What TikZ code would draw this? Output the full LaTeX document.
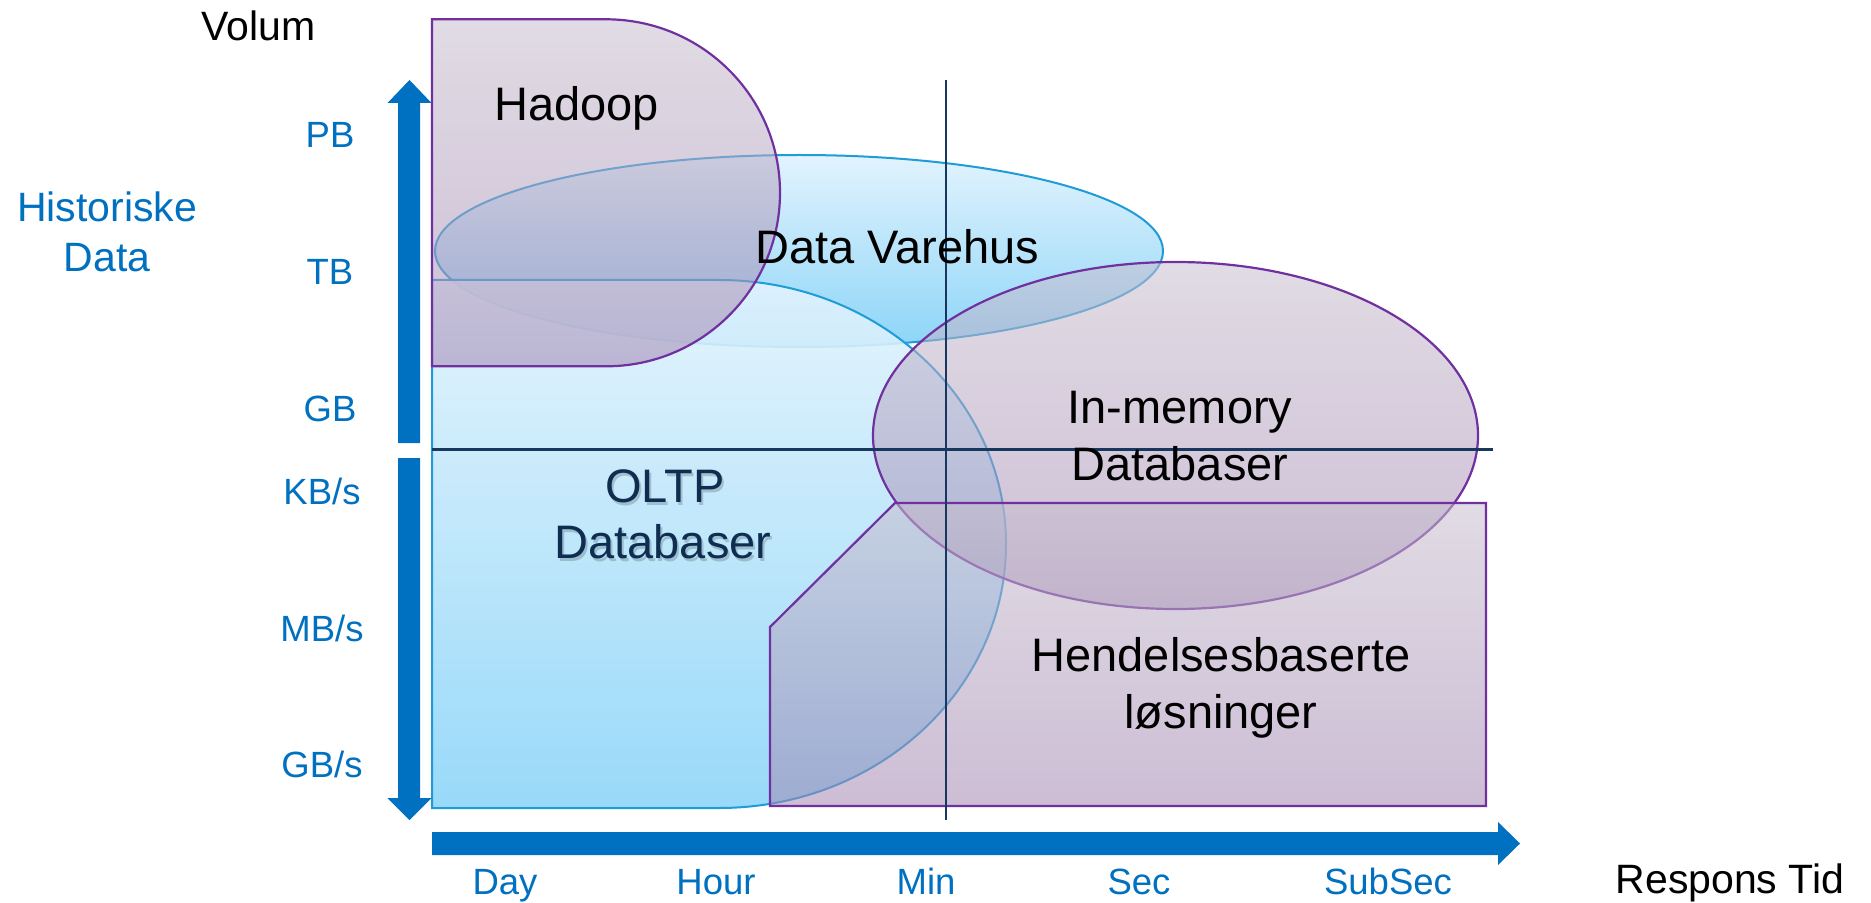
\documentclass[tikz,border=0pt]{standalone}
\usepackage{fontspec}
\setmainfont{Liberation Sans}
\definecolor{axblue}{HTML}{0070C0}
\definecolor{gridnavy}{HTML}{17375E}
\definecolor{oltptext}{HTML}{0F2D50}
\definecolor{purp}{HTML}{7030A0}
\definecolor{bline}{HTML}{1E9CD7}
\definecolor{btop}{HTML}{E2F3FD}
\definecolor{bbot}{HTML}{8DD5F8}
\definecolor{ltop}{HTML}{C7BECE}
\definecolor{lbot}{HTML}{A387B2}
\begin{document}
\begin{tikzpicture}[x=0.5pt,y=-0.5pt,
  bigtxt/.style={font=\fontsize{23.5}{28}\selectfont, inner sep=0pt, anchor=base},
  midtxt/.style={font=\fontsize{20.5}{24}\selectfont, inner sep=0pt, anchor=base},
  axtxt/.style={font=\fontsize{18.25}{22}\selectfont, inner sep=0pt, anchor=base, text=axblue},
  bluebox/.style={draw=bline, line width=1pt, top color=btop, bottom color=bbot},
  lavbox/.style={draw=purp, line width=1.1pt, top color=ltop, bottom color=lbot, fill opacity=0.55},
  gridline/.style={draw=gridnavy, line width=1.2pt},
  axarrow/.style={fill=axblue},
]
\useasboundingbox (0,0) rectangle (1871,903);

% Data Varehus ellipse (bottom layer)
\path[bluebox] (799,251) ellipse [x radius=182pt, y radius=48pt];
% OLTP delay shape
\path[bluebox, fill opacity=0.9] (432,280) -- (719,280)
  arc[start angle=90, end angle=-90, x radius=143.5pt, y radius=132pt]
  -- (432,808) -- cycle;
% Hadoop delay shape
\path[lavbox] (432,19.3) -- (606,19.3)
  arc[start angle=90, end angle=-90, x radius=87pt, y radius=86.75pt]
  -- (432,366.3) -- cycle;
% In-memory ellipse
\path[lavbox] (1175.5,435.5) ellipse [x radius=151.25pt, y radius=86.75pt];
% Hendelsesbaserte snipped rectangle
\path[lavbox] (770,627) -- (895,503) -- (1486,503) -- (1486,806) -- (770,806) -- cycle;

% grid lines
\coordinate (hL) at (432,449.5);
\coordinate (hR) at (1493,449.5);
\coordinate (vT) at (946,80);
\coordinate (vB) at (946,820);
\draw[gridline] (hL) -- (hR);
\draw[gridline] (vT) -- (vB);

% axis arrows
\fill[axarrow] (398,443) -- (398,103) -- (387.5,103) -- (409.5,80) -- (431.5,103) -- (420,103) -- (420,443) -- cycle;
\fill[axarrow] (398,458) -- (420,458) -- (420,798) -- (431.5,798) -- (409.5,820) -- (387.5,798) -- (398,798) -- cycle;
\fill[axarrow] (432,832) -- (1498,832) -- (1498,822) -- (1520,843.5) -- (1498,865) -- (1498,855) -- (432,855) -- cycle;

% axis titles
\node[midtxt] (volum) at (258.5,41) {Volum};
\node[midtxt, text=axblue] (hist1) at (107,222) {Historiske};
\node[midtxt, text=axblue] (hist2) at (107,272) {Data};
\node[midtxt] (respons) at (1730,893) {Respons Tid};

% vertical axis labels
\node[axtxt] (pb) at (330,148) {PB};
\node[axtxt] (tb) at (330,285) {TB};
\node[axtxt] (gb) at (330,421.5) {GB};
\node[axtxt] (kbs) at (322,504) {KB/s};
\node[axtxt] (mbs) at (322,641) {MB/s};
\node[axtxt] (gbs) at (322,777) {GB/s};

% horizontal axis labels
\node[axtxt] (day) at (505,894) {Day};
\node[axtxt] (hour) at (716,894) {Hour};
\node[axtxt] (min) at (926,894) {Min};
\node[axtxt] (sec) at (1139,894) {Sec};
\node[axtxt] (subsec) at (1388,894) {SubSec};

% shape labels
\node[bigtxt] (hadoop) at (576.5,121) {Hadoop};
\node[bigtxt] (dv) at (897.5,264) {Data Varehus};
\node[bigtxt] (inmem1) at (1180,423) {In-memory};
\node[bigtxt] (inmem2) at (1180,480) {Databaser};
\node[bigtxt, text=black, opacity=0.18] (oltp1s) at (667,505) {OLTP};
\node[bigtxt, text=black, opacity=0.18] (oltp2s) at (665,561) {Databaser};
\node[bigtxt, text=oltptext] (oltp1) at (665,502) {OLTP};
\node[bigtxt, text=oltptext] (oltp2) at (663,558) {Databaser};
\node[bigtxt] (hend1) at (1221,671) {Hendelsesbaserte};
\node[bigtxt] (hend2) at (1221,728) {løsninger};
\end{tikzpicture}
\end{document}
